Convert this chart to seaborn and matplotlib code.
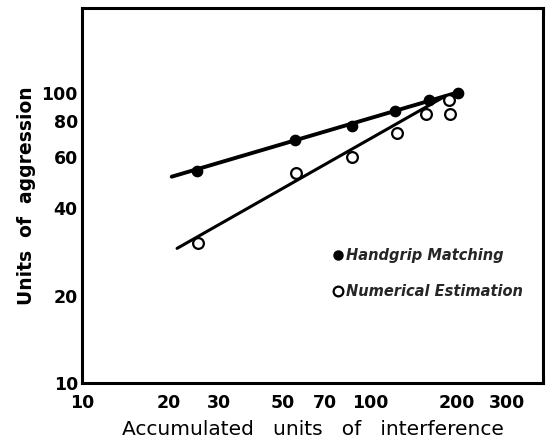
import matplotlib
matplotlib.use("Agg")
import matplotlib.pyplot as plt
import seaborn as sns
import pandas as pd
from matplotlib.lines import Line2D

# Data (log-log axes)
handgrip_x = [25, 55, 86.5, 122, 161, 203]
handgrip_y = [53.8, 68.8, 76.9, 86.7, 94.6, 99.7]
numerical_x = [25.2, 55.6, 87, 124, 157, 188, 190.5]
numerical_y = [30.3, 52.8, 60.3, 72.6, 84.7, 94.6, 84.7]
# fitted lines (end points as drawn)
handgrip_line_x = [20.5, 200]
handgrip_line_y = [51.4, 100]
numerical_line_x = [21.4, 184]
numerical_line_y = [29.1, 97.7]

x_ticks = [20, 25, 30, 40, 50, 60, 70, 80, 90, 100, 150, 200, 250, 300]
x_ticklabels = {10: "10", 20: "20", 30: "30", 50: "50", 70: "70", 100: "100", 200: "200", 300: "300"}
y_ticks = [20, 25, 30, 40, 50, 60, 70, 80, 90, 100]
y_ticklabels = {10: "10", 20: "20", 40: "40", 60: "60", 80: "80", 100: "100"}

sns.set_theme(style="white")
plt.rcParams["font.family"] = ["DejaVu Sans"]

fig = plt.figure(figsize=(5.53, 4.45), dpi=100)
ax = fig.add_axes([82/553, 1-383/445, (543-82)/553, (383-8)/445])

hg_line = pd.DataFrame({"x": handgrip_line_x, "y": handgrip_line_y})
ne_line = pd.DataFrame({"x": numerical_line_x, "y": numerical_line_y})
sns.lineplot(data=hg_line, x="x", y="y", color="black", lw=2.8, ax=ax)
sns.lineplot(data=ne_line, x="x", y="y", color="black", lw=2.2, ax=ax)

hg = pd.DataFrame({"x": handgrip_x, "y": handgrip_y})
ne = pd.DataFrame({"x": numerical_x, "y": numerical_y})
sns.scatterplot(data=hg, x="x", y="y", color="black", s=55, edgecolor="black", linewidth=1, ax=ax, zorder=5)
sns.scatterplot(data=ne, x="x", y="y", facecolor="white", s=60, edgecolor="black", linewidth=1.6, ax=ax, zorder=5)

ax.set_xscale("log")
ax.set_yscale("log")
ax.set_xlim(10, 400)
ax.set_ylim(10, 196)

ax.xaxis.set_major_locator(matplotlib.ticker.FixedLocator([10] + x_ticks))
ax.xaxis.set_minor_locator(matplotlib.ticker.NullLocator())
ax.set_xticklabels([x_ticklabels.get(t, "") for t in [10] + x_ticks])
ax.yaxis.set_major_locator(matplotlib.ticker.FixedLocator([10] + y_ticks))
ax.yaxis.set_minor_locator(matplotlib.ticker.NullLocator())
ax.set_yticklabels([y_ticklabels.get(t, "") for t in [10] + y_ticks])

ax.tick_params(axis="both", direction="in", length=6, width=2, colors="black",
               labelsize=12.5)
ax.tick_params(axis="x", pad=8)
ax.tick_params(axis="y", pad=3)
for lab in ax.get_xticklabels() + ax.get_yticklabels():
    lab.set_fontweight("bold")

for s in ax.spines.values():
    s.set_visible(True)
    s.set_color("black")
    s.set_linewidth(2.2)

ax.set_xlabel("Accumulated   units   of   interference", fontsize=14.5, color="black", labelpad=6)
ax.set_ylabel("Units  of  aggression", fontsize=13.5, color="black", fontweight="bold", labelpad=4)

handles = [
    Line2D([], [], marker="o", ls="", color="black", markersize=6.5),
    Line2D([], [], marker="o", ls="", markerfacecolor="white", markeredgecolor="black",
           markeredgewidth=1.6, markersize=7),
]
leg = ax.legend(handles, ["Handgrip Matching", "Numerical Estimation"], frameon=False,
                loc="upper left", bbox_to_anchor=(0.51, 0.395), handletextpad=0.1,
                handlelength=1.0, labelspacing=1.45,
                prop={"style": "italic", "weight": "bold", "size": 10.5})

fig.savefig("out.png", dpi=100)
